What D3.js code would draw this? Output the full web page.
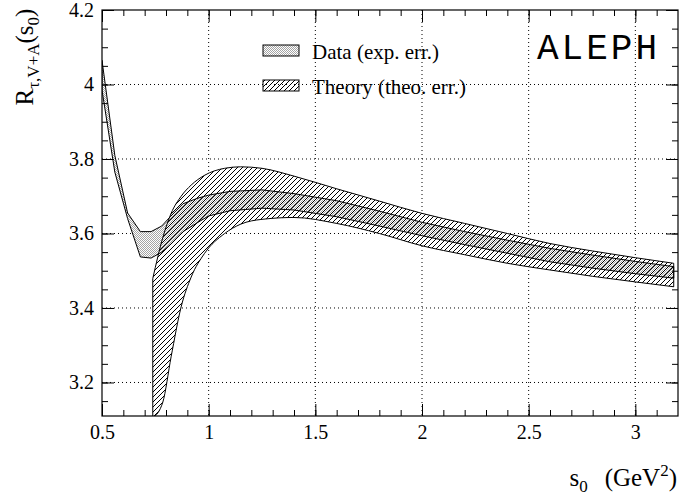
<!DOCTYPE html>
<html>
<head>
<meta charset="utf-8">
<script src="https://cdn.jsdelivr.net/npm/d3@7"></script>
<style>
  body { margin: 0; background: #fff; }
  svg { display: block; }
</style>
</head>
<body>
<svg id="canvas"></svg>
<script>
// R_tau,V+A(s0) : ALEPH data band against the theory band

// data band (exp. err.)
let dataS  = [0.50, 0.56, 0.62, 0.68, 0.73, 0.78, 0.82, 0.88, 0.95, 1.00, 1.10, 1.25, 1.40, 1.60, 1.80, 2.00, 2.20, 2.40, 2.60, 2.80, 3.00, 3.18]
let dataLo = [3.985, 3.765, 3.640, 3.537, 3.534, 3.550, 3.570, 3.605, 3.630, 3.647, 3.661, 3.668, 3.663, 3.645, 3.620, 3.594, 3.570, 3.547, 3.524, 3.507, 3.492, 3.480]
let dataHi = [4.065, 3.810, 3.655, 3.605, 3.605, 3.620, 3.645, 3.680, 3.695, 3.703, 3.713, 3.717, 3.707, 3.688, 3.660, 3.630, 3.605, 3.582, 3.560, 3.542, 3.525, 3.511]

// theory band (theo. err.)
let theoS  = [0.738, 0.785, 0.824, 0.871, 0.918, 0.980, 1.075, 1.150, 1.250, 1.400, 1.600, 1.800, 2.000, 2.200, 2.400, 2.600, 2.800, 3.000, 3.180]
let theoLo = [3.105, 3.147, 3.269, 3.403, 3.483, 3.546, 3.600, 3.625, 3.638, 3.643, 3.627, 3.600, 3.567, 3.543, 3.520, 3.502, 3.485, 3.470, 3.457]
let theoHi = [3.479, 3.589, 3.654, 3.700, 3.730, 3.756, 3.775, 3.779, 3.775, 3.754, 3.720, 3.687, 3.654, 3.627, 3.600, 3.573, 3.553, 3.535, 3.520]

let xTicks = [0.5, 1, 1.5, 2, 2.5, 3]
let yTicks = [3.2, 3.4, 3.6, 3.8, 4, 4.2]
let xGrid = [1, 1.5, 2, 2.5, 3]
let yGrid = [3.2, 3.4, 3.6, 3.8, 4]

let legendLabels = ['Data (exp. err.)', 'Theory (theo. err.)']

//dimensions
let width = 697
let height = 500
let plotLeft = 102, plotRight = 678, plotTop = 10, plotBottom = 416

let serif = '"Liberation Serif", "Times New Roman", serif'

let svg = d3.select('#canvas')
            .attr('width', width)
            .attr('height', height)

let xScale = d3.scaleLinear().domain([0.5, 3.2]).range([plotLeft, plotRight])
let yScale = d3.scaleLinear().domain([3.11, 4.2]).range([plotBottom, plotTop])

// minor tick positions
let xMinor = d3.range(6, 32).map(d => d / 10)
let yMinor = d3.range(63, 85).map(d => d / 20)

// fill patterns
let defs = svg.append('defs')

let dots = defs.append('pattern')
            .attr('id', 'dots')
            .attr('patternUnits', 'userSpaceOnUse')
            .attr('width', 2)
            .attr('height', 2)
dots.append('rect').attr('width', 1).attr('height', 1).attr('fill', '#a4a4a4')
dots.append('rect').attr('x', 1).attr('y', 1).attr('width', 1).attr('height', 1).attr('fill', '#a4a4a4')

let hatch = defs.append('pattern')
            .attr('id', 'hatch')
            .attr('patternUnits', 'userSpaceOnUse')
            .attr('width', 5)
            .attr('height', 5)
hatch.append('path')
     .attr('d', 'M-1,1 l2,-2 M0,5 l5,-5 M4,6 l2,-2')
     .attr('stroke', '#000')
     .attr('stroke-width', 1)

defs.append('clipPath').attr('id', 'frame')
    .append('rect')
    .attr('x', plotLeft).attr('y', plotTop)
    .attr('width', plotRight - plotLeft).attr('height', plotBottom - plotTop)

// grid
let grid = svg.append('g')
              .attr('stroke', '#000')
              .attr('stroke-width', 1)
              .attr('stroke-dasharray', '1,3')
grid.selectAll('.gx').data(xGrid).enter().append('line')
    .attr('x1', d => xScale(d)).attr('x2', d => xScale(d))
    .attr('y1', plotTop).attr('y2', plotBottom)
grid.selectAll('.gy').data(yGrid).enter().append('line')
    .attr('x1', plotLeft).attr('x2', plotRight)
    .attr('y1', d => yScale(d)).attr('y2', d => yScale(d))

// bands
let dataRows = dataS.map((s, i) => ({ s: s, lo: dataLo[i], hi: dataHi[i] }))
let theoRows = theoS.map((s, i) => ({ s: s, lo: theoLo[i], hi: theoHi[i] }))

let dataArea = d3.area()
                 .x(d => xScale(d.s))
                 .y0(d => yScale(d.lo))
                 .y1(d => yScale(d.hi))
let theoArea = d3.area()
                 .curve(d3.curveMonotoneX)
                 .x(d => xScale(d.s))
                 .y0(d => yScale(d.lo))
                 .y1(d => yScale(d.hi))

let bands = svg.append('g').attr('clip-path', 'url(#frame)')

bands.append('path').attr('d', theoArea(theoRows)).attr('fill', '#fff')
bands.append('path').attr('d', dataArea(dataRows)).attr('fill', '#fff')
bands.append('path').attr('d', dataArea(dataRows)).attr('fill', 'url(#dots)')
bands.append('path').attr('d', theoArea(theoRows)).attr('fill', 'url(#hatch)')
bands.append('path').attr('d', dataArea(dataRows))
     .attr('fill', 'none').attr('stroke', '#000').attr('stroke-width', 1)
bands.append('path').attr('d', theoArea(theoRows))
     .attr('fill', 'none').attr('stroke', '#000').attr('stroke-width', 1)

// frame and ticks
let drawAxis = (axis, tx, ty) => {
    let g = svg.append('g')
               .attr('transform', 'translate(' + tx + ',' + ty + ')')
               .call(axis)
    g.select('.domain').remove()
    g.selectAll('line').attr('stroke', '#000')
    g.selectAll('text')
     .attr('font-family', serif)
     .attr('font-size', 20)
     .attr('fill', '#000')
    return g
}

drawAxis(d3.axisBottom(xScale).tickValues(xTicks).tickSize(-12).tickPadding(9).tickFormat(d3.format('')), 0, plotBottom)
drawAxis(d3.axisBottom(xScale).tickValues(xMinor).tickSize(-6).tickFormat(''), 0, plotBottom)
drawAxis(d3.axisTop(xScale).tickValues(xTicks).tickSize(-12).tickFormat(''), 0, plotTop)
drawAxis(d3.axisTop(xScale).tickValues(xMinor).tickSize(-6).tickFormat(''), 0, plotTop)
drawAxis(d3.axisLeft(yScale).tickValues(yTicks).tickSize(-12).tickPadding(8).tickFormat(d3.format('')), plotLeft, 0)
drawAxis(d3.axisLeft(yScale).tickValues(yMinor).tickSize(-6).tickFormat(''), plotLeft, 0)
drawAxis(d3.axisRight(yScale).tickValues(yTicks).tickSize(-12).tickFormat(''), plotRight, 0)
drawAxis(d3.axisRight(yScale).tickValues(yMinor).tickSize(-6).tickFormat(''), plotRight, 0)

svg.append('rect')
   .attr('x', plotLeft).attr('y', plotTop)
   .attr('width', plotRight - plotLeft).attr('height', plotBottom - plotTop)
   .attr('fill', 'none')
   .attr('stroke', '#000')
   .attr('stroke-width', 1.2)

// axis titles
let yLabel = svg.append('text')
                .attr('transform', 'translate(33,57) rotate(-90)')
                .attr('text-anchor', 'middle')
                .attr('font-family', serif)
                .attr('font-size', 25)
yLabel.append('tspan').text('R')
yLabel.append('tspan').attr('font-size', 17).attr('dy', 6).text('τ,V+A')
yLabel.append('tspan').attr('dy', -6).text('(s')
yLabel.append('tspan').attr('font-size', 17).attr('dy', 6).text('0')
yLabel.append('tspan').attr('dy', -6).text(')')

let xLabel = svg.append('text')
                .attr('x', 677)
                .attr('y', 486)
                .attr('text-anchor', 'end')
                .attr('font-family', serif)
                .attr('font-size', 25)
xLabel.append('tspan').text('s')
xLabel.append('tspan').attr('font-size', 17).attr('dy', 6).text('0')
xLabel.append('tspan').attr('dy', -6).attr('dx', 17).text('(GeV')
xLabel.append('tspan').attr('font-size', 17).attr('dy', -10).text('2')
xLabel.append('tspan').attr('dy', 10).text(')')

// experiment tag
svg.append('text')
   .attr('x', 537)
   .attr('y', 59)
   .attr('font-family', '"Liberation Mono", "Courier New", monospace')
   .attr('font-size', 36)
   .attr('letter-spacing', 3)
   .text('ALEPH')

// legend
let legend = svg.append('g')
legend.selectAll('rect')
      .data(legendLabels)
      .enter()
      .append('rect')
      .attr('x', 263)
      .attr('y', (d, i) => 45 + 35 * i)
      .attr('width', 36)
      .attr('height', 11)
      .attr('fill', (d, i) => i === 0 ? 'url(#dots)' : 'url(#hatch)')
      .attr('stroke', '#000')
      .attr('stroke-width', 1)
legend.selectAll('text')
      .data(legendLabels)
      .enter()
      .append('text')
      .attr('x', 312)
      .attr('y', (d, i) => 59 + 35 * i)
      .attr('font-family', serif)
      .attr('font-size', 21)
      .text(d => d)
</script>
</body>
</html>
